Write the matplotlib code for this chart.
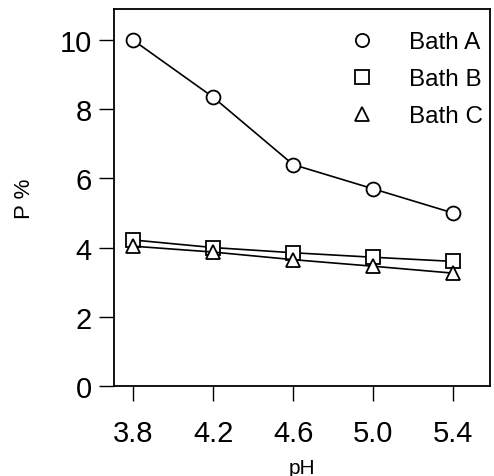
import matplotlib
matplotlib.use("Agg")
import matplotlib.pyplot as plt

plt.rcParams['font.family'] = ['Liberation Sans', 'DejaVu Sans']

# pH values and phosphorus content for the three baths
ph = [3.8, 4.2, 4.6, 5.0, 5.4]
bath_a = [10.0, 8.35, 6.4, 5.7, 5.0]
bath_b = [4.22, 4.0, 3.85, 3.72, 3.6]
bath_c = [4.04, 3.87, 3.65, 3.46, 3.26]

fig = plt.figure(figsize=(4.94, 4.77), dpi=100)
ax = fig.add_axes([0.231, 0.189, 0.761, 0.790])

mk = dict(color='black', lw=1.2, ms=10, mfc='white', mec='black', mew=1.3)
ax.plot(ph, bath_a, marker='o', label='Bath A', **mk)
ax.plot(ph, bath_b, marker='s', label='Bath B', **mk)
ax.plot(ph, bath_c, marker='^', label='Bath C', **mk)

ax.set_xlim(3.705, 5.585)
ax.set_ylim(0, 10.9)
ax.set_xticks(ph)
ax.set_xticklabels(['3.8', '4.2', '4.6', '5.0', '5.4'])
ax.set_yticks([0, 2, 4, 6, 8, 10])

ax.tick_params(direction='out', length=11, width=1, labelsize=21, pad=5)
ax.tick_params(axis='x', pad=13)
for s in ax.spines.values():
    s.set_linewidth(1.3)

ax.set_xlabel('pH', fontsize=15, labelpad=8)
ax.set_ylabel('P %', fontsize=16, labelpad=18)

leg = ax.legend(loc='upper right', bbox_to_anchor=(1.008, 0.967), frameon=False,
                fontsize=17.5, handlelength=1.0, handletextpad=1.45,
                labelspacing=0.62, borderaxespad=0, markerscale=0.95)
for h in leg.legend_handles:
    h.set_linestyle('none')

fig.savefig('out.png', dpi=100)
